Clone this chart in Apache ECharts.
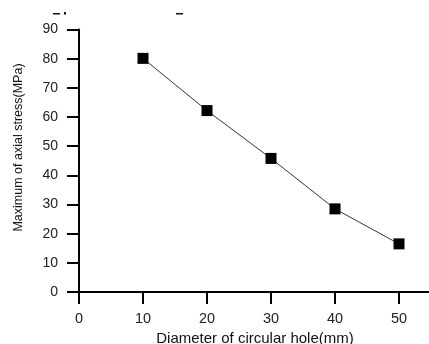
<!DOCTYPE html>
<html>
<head>
    <meta charset="utf-8">
    <title>ECharts</title>
    <script src="https://cdn.jsdelivr.net/npm/echarts@6/dist/echarts.min.js"></script>
</head>
<body style="margin:0">
    <div id="main" style="width: 429px;height:344px;"></div>
    <script type="text/javascript">
        // hole diameter (mm) and max axial stress (MPa)
        var diameter = [10, 20, 30, 40, 50];
        var stress = [80.1, 62.2, 45.8, 28.5, 16.5];

        var myChart = echarts.init(document.getElementById('main'));
        var font = 'Liberation Sans, Arial, sans-serif';

        var points = [];
        for (var i = 0; i < diameter.length; i++) {
            points.push([diameter[i], stress[i]]);
        }

        var option = {
            animation: false,
            backgroundColor: '#fff',
            grid: { left: 79, top: 29.5, width: 352, height: 262.5, outerBoundsMode: 'none' },
            xAxis: {
                type: 'value',
                min: 0, max: 55, interval: 10,
                name: 'Diameter of circular hole(mm)',
                nameLocation: 'middle',
                nameGap: 36,
                nameTextStyle: { fontFamily: font, fontSize: 15, color: '#111' },
                axisLine: { onZero: false, lineStyle: { color: '#000', width: 2 } },
                axisTick: { length: 12, lineStyle: { color: '#000', width: 2 } },
                axisLabel: { margin: 19, fontFamily: font, fontSize: 14.5, color: '#222', showMaxLabel: false },
                splitLine: { show: false }
            },
            yAxis: {
                type: 'value',
                min: 0, max: 90, interval: 10,
                axisLine: { show: true, onZero: false, lineStyle: { color: '#000', width: 2 } },
                axisTick: { show: true, length: 12, lineStyle: { color: '#000', width: 2 } },
                axisLabel: { margin: 21, fontFamily: font, fontSize: 14, color: '#222' },
                splitLine: { show: false }
            },
            graphic: [{
                type: 'text',
                x: 19, y: 147.5,
                rotation: Math.PI / 2,
                style: {
                    text: 'Maximum of axial stress(MPa)',
                    font: '12.5px ' + font,
                    fill: '#111',
                    align: 'center',
                    verticalAlign: 'middle'
                }
            },
            // clipped remnants of text above the plot
            { type: 'rect', shape: { x: 53, y: 13, width: 7, height: 1.5 }, style: { fill: '#111' } },
            { type: 'rect', shape: { x: 64, y: 12, width: 2, height: 2.5 }, style: { fill: '#111' } },
            { type: 'rect', shape: { x: 176, y: 13, width: 7, height: 1.5 }, style: { fill: '#111' } }],
            series: [{
                type: 'line',
                data: points,
                symbol: 'rect',
                symbolSize: 11,
                itemStyle: { color: '#000', borderRadius: 1 },
                lineStyle: { color: '#333', width: 1 }
            }]
        };

        myChart.setOption(option);
    </script>
</body>
</html>
